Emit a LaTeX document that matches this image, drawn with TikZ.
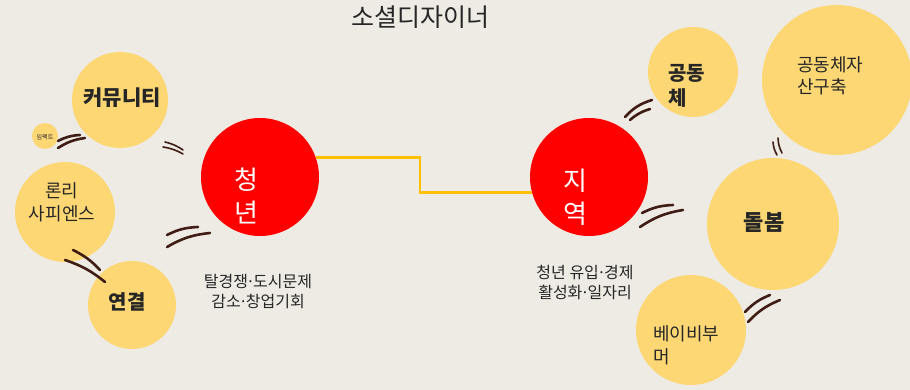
\documentclass[tikz,border=0pt]{standalone}
\usepackage{fontspec}
\newfontfamily\kr{Noto Sans CJK KR}
\newcommand{\mdot}{\hbox to 0.32em{\hss·\hss}}
\definecolor{bgc}{HTML}{EEEBE4}
\definecolor{ylw}{HTML}{FCD774}
\definecolor{rd}{HTML}{FF0000}
\definecolor{gld}{HTML}{FFC000}
\definecolor{brn}{HTML}{3F1C14}
\definecolor{txt}{HTML}{262626}
\tikzset{
  ycirc/.style={circle, fill=ylw, inner sep=0pt},
  rcirc/.style={circle, fill=rd, inner sep=0pt},
  lbl/.style={font=\kr, text=txt, inner sep=0pt, align=center},
  lbll/.style={font=\kr, text=txt, inner sep=0pt, align=left},
  wlbl/.style={font=\kr\fontsize{26}{31}\selectfont, text=white, inner sep=0pt, align=center},
  mk/.style={draw=brn, line width=2.6pt, line cap=round},
  mkthin/.style={draw=brn, line width=1.6pt, line cap=round},
  link/.style={draw=gld, line width=2.6pt}
}
\begin{document}
\begin{tikzpicture}[x=1pt,y=-1pt]
\useasboundingbox (0,0) rectangle (910,390);
\clip (0,0) rectangle (910,390);
\fill[bgc] (0,0) rectangle (910,390);

% title
\node[lbl, font=\kr\fontsize{25}{30}\selectfont, text=black!85] (title) at (420,17) {소셜디자이너};

% circles
\node[ycirc, minimum size=96pt] (comm) at (120,100) {};
\node[ycirc, minimum size=26pt] (imp) at (45,136) {};
\node[ycirc, minimum size=100pt] (lone) at (65,212) {};
\node[ycirc, minimum size=88pt] (conn) at (132,305) {};
\node[rcirc, minimum size=118pt] (cy) at (260,177) {};
\node[rcirc, minimum size=118pt] (jy) at (589,177) {};
\node[ycirc, minimum size=90pt] (gd) at (693,72) {};
\node[ycirc, minimum size=150pt] (asset) at (837,80) {};
\node[ycirc, minimum size=132pt] (care) at (773,224) {};
\node[ycirc, minimum size=110pt] (boom) at (691,330) {};

% gold connector
\coordinate (bendpt) at (420,175);
\draw[link] (cy.19) -| (bendpt) |- (jy.195);

% texts
\node[lbl, font=\kr\bfseries\fontsize{21}{25}\selectfont] (tcomm) at (122,98) {커뮤니티};
\node[lbl, font=\kr\fontsize{6}{7}\selectfont] (timp) at (45,137) {임팩트};
\node[lbl, font=\kr\fontsize{18}{23}\selectfont] (tlone) at (62,202) {론리\\사피엔스};
\node[lbl, font=\kr\bfseries\fontsize{20}{24}\selectfont] (tconn) at (127,302) {연결};
\node[wlbl] (tcy) at (246,196) {청\\[2pt]년};
\node[wlbl] (tjy) at (575,197) {지\\[2pt]역};
\node[lbl, font=\kr\fontsize{16}{20}\selectfont] (tcyd) at (258,292) {탈경쟁\mdot 도시문제\\감소\mdot 창업기회};
\node[lbl, font=\kr\fontsize{16}{20}\selectfont] (tjyd) at (585,282) {청년 유입\mdot 경제\\활성화\mdot 일자리};
\node[lbll, font=\kr\bfseries\fontsize{20}{25}\selectfont, anchor=west] (tgd) at (668,86) {공동\\체};
\node[lbll, font=\kr\fontsize{18}{22}\selectfont, anchor=west] (tasset) at (797,76) {공동체자\\산구축};
\node[lbl, font=\kr\bfseries\fontsize{22}{26}\selectfont] (tcare) at (764,222) {돌봄};
\node[lbll, font=\kr\fontsize{18}{23}\selectfont, anchor=west] (tboom) at (653,345) {베이비부\\머};

% double-arc marks
\draw[mk] (58,141) to[bend left=12] (80,135);
\draw[mk] (58,148) to[bend left=12] (85,138);

\draw[mkthin] (165,142) to[bend left=10] (183,150);
\draw[mkthin] (163,147) to[bend left=10] (183,154);

\draw[mk] (167,235) to[bend left=12] (198,227);
\draw[mk] (167,247) to[bend left=12] (210,233);

\draw[mk] (73,250) to[bend left=10] (100,270);
\draw[mk] (65,260) to[bend left=10] (105,282);

\draw[mk] (625,117) to[bend left=15] (652,100);
\draw[mk] (630,120) to[bend left=12] (650,109);

\draw[mkthin] (777,155) to[bend left=12] (773,142);
\draw[mkthin] (782,153) to[bend left=12] (778,138);

\draw[mk] (642,213) to[bend left=12] (673,205);
\draw[mk] (640,227) to[bend left=12] (683,210);

\draw[mk] (745,312) to[bend left=12] (770,295);
\draw[mk] (748,322) to[bend left=12] (780,300);
\end{tikzpicture}
\end{document}
